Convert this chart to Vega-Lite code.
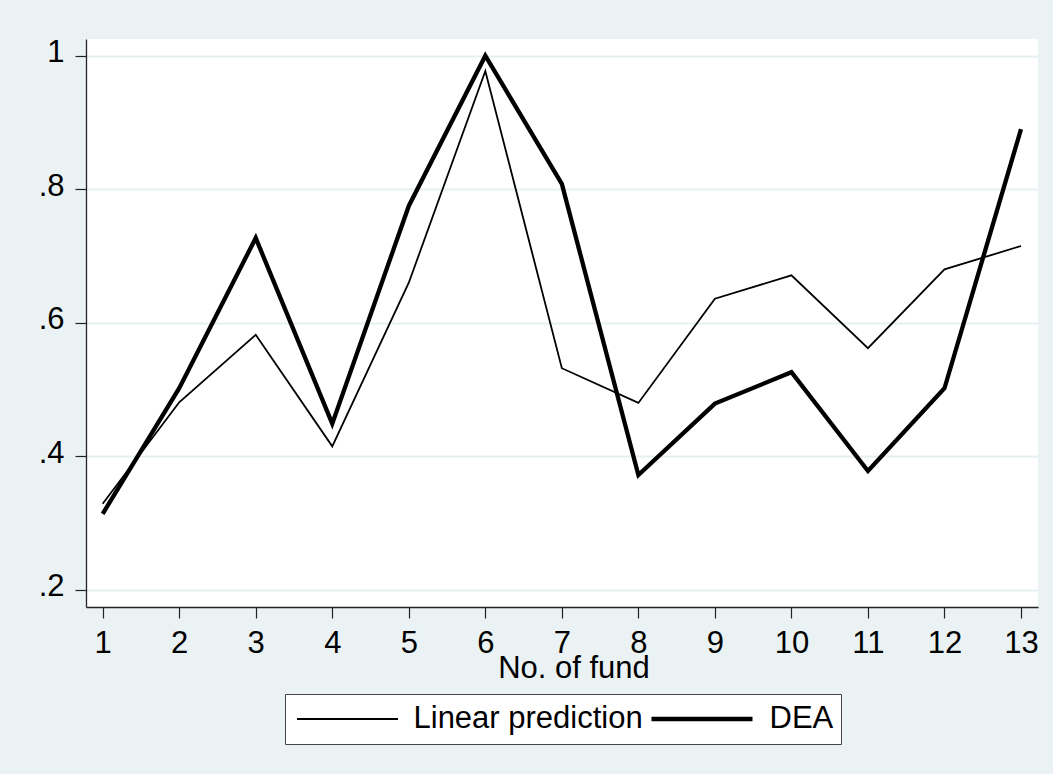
{
  "$schema": "https://vega.github.io/schema/vega-lite/v6.json",
  "autosize": {"type": "none"},
  "width": 952,
  "height": 568,
  "padding": {"left": 86, "top": 39, "right": 15, "bottom": 167},
  "background": "#EAF2F3",
  "view": {"fill": "white", "stroke": null},
  "config": {
    "font": "Liberation Sans",
    "axis": {"labelFont": "Liberation Sans", "titleFont": "Liberation Sans"},
    "legend": {"labelFont": "Liberation Sans"}
  },
  "data": {
    "values": [
      {"fund": 1, "series": "Linear prediction", "value": 0.329},
      {"fund": 2, "series": "Linear prediction", "value": 0.481},
      {"fund": 3, "series": "Linear prediction", "value": 0.582},
      {"fund": 4, "series": "Linear prediction", "value": 0.415},
      {"fund": 5, "series": "Linear prediction", "value": 0.660},
      {"fund": 6, "series": "Linear prediction", "value": 0.977},
      {"fund": 7, "series": "Linear prediction", "value": 0.532},
      {"fund": 8, "series": "Linear prediction", "value": 0.480},
      {"fund": 9, "series": "Linear prediction", "value": 0.636},
      {"fund": 10, "series": "Linear prediction", "value": 0.671},
      {"fund": 11, "series": "Linear prediction", "value": 0.562},
      {"fund": 12, "series": "Linear prediction", "value": 0.680},
      {"fund": 13, "series": "Linear prediction", "value": 0.715},
      {"fund": 1, "series": "DEA", "value": 0.314},
      {"fund": 2, "series": "DEA", "value": 0.502},
      {"fund": 3, "series": "DEA", "value": 0.727},
      {"fund": 4, "series": "DEA", "value": 0.449},
      {"fund": 5, "series": "DEA", "value": 0.775},
      {"fund": 6, "series": "DEA", "value": 1.0},
      {"fund": 7, "series": "DEA", "value": 0.808},
      {"fund": 8, "series": "DEA", "value": 0.372},
      {"fund": 9, "series": "DEA", "value": 0.479},
      {"fund": 10, "series": "DEA", "value": 0.526},
      {"fund": 11, "series": "DEA", "value": 0.378},
      {"fund": 12, "series": "DEA", "value": 0.502},
      {"fund": 13, "series": "DEA", "value": 0.890}
    ]
  },
  "mark": {"type": "line", "strokeJoin": "miter", "strokeCap": "butt"},
  "encoding": {
    "x": {
      "field": "fund",
      "type": "quantitative",
      "scale": {"domain": [0.782, 13.222], "nice": false, "zero": false},
      "axis": {
        "values": [1, 2, 3, 4, 5, 6, 7, 8, 9, 10, 11, 12, 13],
        "format": "d",
        "title": "No. of fund",
        "titleFontSize": 31,
        "titleFontWeight": "normal",
        "titleColor": "black",
        "titleX": 487.5,
        "titleY": 70,
        "titleBaseline": "alphabetic",
        "titleAnchor": "middle",
        "titleAlign": "center",
        "labelFontSize": 31,
        "labelColor": "black",
        "labelPadding": 10,
        "labelFlush": false,
        "labelOverlap": false,
        "tickSize": 11,
        "tickColor": "#222",
        "tickWidth": 1.2,
        "domainColor": "#222",
        "domainWidth": 1.3,
        "grid": false
      }
    },
    "y": {
      "field": "value",
      "type": "quantitative",
      "scale": {"domain": [0.1744, 1.025], "nice": false, "zero": false},
      "axis": {
        "values": [0.2, 0.4, 0.6, 0.8, 1],
        "labelExpr": "datum.value == 1 ? '1' : replace(format(datum.value, '.1f'), '0.', '.')",
        "title": null,
        "labelFontSize": 31,
        "labelColor": "black",
        "labelPadding": 11,
        "labelOffset": -3,
        "labelFlush": false,
        "labelOverlap": false,
        "tickSize": 11,
        "tickColor": "#222",
        "tickWidth": 1.2,
        "domainColor": "#222",
        "domainWidth": 1.3,
        "grid": true,
        "gridColor": "#E6EFF1",
        "gridWidth": 2
      }
    },
    "color": {
      "field": "series",
      "type": "nominal",
      "scale": {"domain": ["Linear prediction", "DEA"], "range": ["black", "black"]},
      "legend": {
        "title": null,
        "orient": "none",
        "legendX": 199,
        "legendY": 655,
        "direction": "horizontal",
        "symbolType": "stroke",
        "symbolSize": 10201,
        "symbolOffset": 4,
        "clipHeight": 36,
        "labelOffset": 14.5,
        "labelLimit": 0,
        "columnPadding": 2,
        "labelFontSize": 31,
        "labelColor": "black",
        "padding": 7,
        "strokeColor": "#444",
        "fillColor": "white"
      }
    },
    "strokeWidth": {
      "field": "series",
      "type": "nominal",
      "scale": {"domain": ["Linear prediction", "DEA"], "range": [1.8, 4.3]},
      "legend": {
        "title": null,
        "orient": "none",
        "legendX": 199,
        "legendY": 655,
        "direction": "horizontal",
        "symbolType": "stroke",
        "symbolSize": 10201,
        "symbolOffset": 4,
        "clipHeight": 36,
        "labelOffset": 14.5,
        "labelLimit": 0,
        "columnPadding": 2,
        "labelFontSize": 31,
        "labelColor": "black",
        "padding": 7,
        "strokeColor": "#444",
        "fillColor": "white"
      }
    }
  }
}
